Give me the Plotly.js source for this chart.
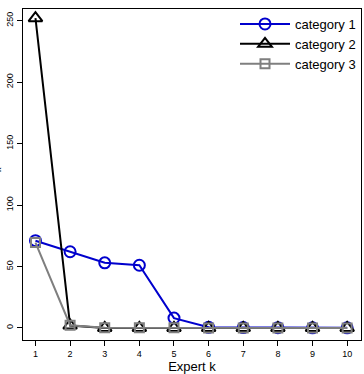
<!DOCTYPE html>
<html>
<head>
<meta charset="utf-8">
<script src="https://cdn.plot.ly/plotly-3.0.1.min.js"></script>
<style>
  html, body { margin: 0; padding: 0; background: #fff; }
  #chart { width: 364px; height: 374px; }
</style>
</head>
<body>
<div id="chart"></div>
<script>
// Mixture weights per expert for three categories
const experts = [1, 2, 3, 4, 5, 6, 7, 8, 9, 10];
const category1 = [71, 62, 53, 51, 8, 0.5, 0.3, 0.2, 0.1, 0.1];
const category2 = [252, 2, 0, 0, 0, 0, 0, 0, 0, 0];
const category3 = [69.5, 2.2, 0.2, 0.1, 0.1, 0, 0, 0, 0, 0];
const seriesNames = ['category 1', 'category 2', 'category 3'];
const yTicks = [0, 50, 100, 150, 200, 250];

const font = 'Liberation Sans, Arial, sans-serif';

const traces = [
  {
    x: experts, y: category1, name: seriesNames[0], mode: 'lines+markers',
    line: { color: '#0000cd', width: 2 },
    marker: { symbol: 'circle-open', size: 11, color: '#0000cd', line: { width: 2 } }
  },
  {
    x: experts, y: category2, name: seriesNames[1], mode: 'lines+markers',
    line: { color: '#000000', width: 2 },
    marker: { symbol: 'triangle-up-open', size: 12, color: '#000000', line: { width: 2 } }
  },
  {
    x: experts, y: category3, name: seriesNames[2], mode: 'lines+markers',
    line: { color: '#7f7f7f', width: 2 },
    marker: { symbol: 'square-open', size: 9, color: '#7f7f7f', line: { width: 2 } }
  }
];

const layout = {
  width: 364, height: 374,
  margin: { l: 23, r: 3, t: 9, b: 34 },
  paper_bgcolor: '#ffffff', plot_bgcolor: '#ffffff',
  font: { family: font, color: '#000' },
  showlegend: true,
  legend: {
    x: 1, xanchor: 'right', y: 1, yanchor: 'top',
    bgcolor: 'rgba(255,255,255,0)',
    borderwidth: 0,
    font: { family: font, size: 13, color: '#000' },
    itemwidth: 50,
    traceorder: 'normal'
  },
  xaxis: {
    range: [0.64, 10.4],
    tickvals: experts, ticktext: experts.map(String),
    ticks: 'outside', ticklen: 5, tickwidth: 1, tickcolor: '#000',
    tickfont: { family: font, size: 9, color: '#000' },
    showgrid: false, zeroline: false,
    showline: true, linecolor: '#000', linewidth: 1, mirror: true,
    title: { text: 'Expert k', font: { family: font, size: 13, color: '#000' }, standoff: 0 },
    automargin: false
  },
  yaxis: {
    range: [-9.8, 259.5],
    tickvals: yTicks, ticktext: yTicks.map(String),
    tickangle: -90,
    ticks: 'outside', ticklen: 5, tickwidth: 1, tickcolor: '#000',
    tickfont: { family: font, size: 9, color: '#000' },
    showgrid: false, zeroline: false,
    showline: true, linecolor: '#000', linewidth: 1, mirror: true,
    automargin: false
  },
  // y-axis label sits at the very left edge, mostly outside the page
  annotations: [{
    text: 'π<sub>k</sub>', textangle: -90,
    xref: 'paper', yref: 'paper', x: 0, y: 0.5,
    xanchor: 'right', yanchor: 'middle', xshift: -18,
    showarrow: false,
    font: { family: font, size: 13, color: '#000' }
  }]
};

Plotly.newPlot('chart', traces, layout, { displayModeBar: false, staticPlot: true });
</script>
</body>
</html>
